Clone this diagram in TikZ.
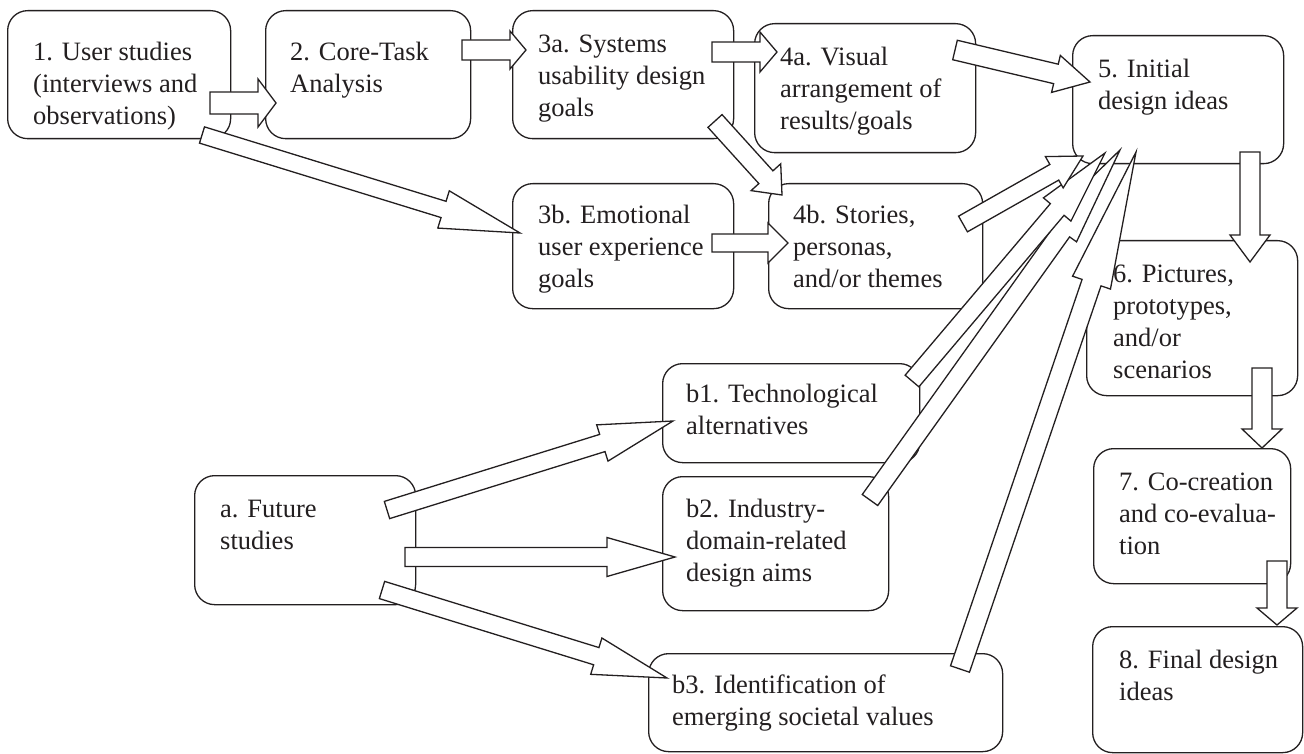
\documentclass[tikz,border=0pt]{standalone}
\usepackage{fontspec}
\setmainfont{Liberation Serif}
\newfontfamily\boxface{Liberation Serif}
\usetikzlibrary{calc}

\definecolor{ink}{HTML}{231F20}

\tikzset{
  box/.style={draw=ink, fill=white, line width=1.3pt, rounded corners=20pt,
    anchor=north west, inner sep=0pt},
  lbl/.style={anchor=north west, inner sep=0pt, align=left, text=ink,
    font=\boxface\fontsize{26.5}{32}\selectfont},
  % outlined block arrow: #1 shaft half-width, #2 head half-width, #3 head length
  barrow/.style n args={3}{draw=ink, fill=white, line width=1.3pt, line join=miter,
    to path={
      let \p1=(\tikztostart), \p2=(\tikztotarget),
          \n1={atan2(\y2-\y1,\x2-\x1)}
      in ($(\p1)+(\n1+90:#1)$)
      -- ($(\p2)+(\n1+180:#3)+(\n1+90:#1)$)
      -- ($(\p2)+(\n1+180:#3)+(\n1+90:#2)$)
      -- (\p2)
      -- ($(\p2)+(\n1+180:#3)+(\n1-90:#2)$)
      -- ($(\p2)+(\n1+180:#3)+(\n1-90:#1)$)
      -- ($(\p1)+(\n1-90:#1)$) -- cycle
    }},
}

\newcommand{\mybox}[5]{% name, x1, y1, x2, y2
  \node[box, minimum width={(#4-#2)*1pt}, minimum height={(#5-#3)*1pt}] (#1) at (#2,#3) {};}

\begin{document}
\begin{tikzpicture}[x=1pt, y=-1pt]
\useasboundingbox (0,0) rectangle (1304,754);

% ---- boxes ----
\mybox{n1}{7}{10}{230}{138}
\mybox{n2}{265}{10}{470}{138}
\mybox{n3a}{512}{10}{733}{138}
\mybox{n4a}{754}{23}{975}{152}
\mybox{n5}{1072}{35}{1283}{163}
\mybox{n6}{1086}{240}{1297}{395}
\mybox{n7}{1093}{448}{1290}{583}
\mybox{n8}{1092}{626}{1302}{752}
\mybox{n3b}{512}{183}{733}{308}
\mybox{n4b}{768}{183}{982}{308}
\mybox{nb1}{662}{363}{919}{462}
\mybox{nb2}{662}{476}{888}{610}
\mybox{nb3}{648}{653}{1002}{751}
\mybox{na}{194}{475}{415}{604}

% ---- labels ----
\node[lbl] (t1) at (33,37.6) {\strut 1. User studies\\(interviews and\\observations)};
\node[lbl] (t2) at (290,37.6) {\strut 2. Core-Task\\Analysis};
\node[lbl] (t3a) at (538,29.6) {\strut 3a. Systems\\usability design\\goals};
\node[lbl] (t4a) at (780,42.6) {\strut 4a. Visual\\arrangement of\\results/goals};
\node[lbl] (t5) at (1098,54.6) {\strut 5. Initial\\design ideas};
\node[lbl] (t6) at (1113,259.6) {\strut 6. Pictures,\\prototypes,\\and/or\\scenarios};
\node[lbl] (t7) at (1119,467.6) {\strut 7. Co-creation\\and co-evalua-\\tion};
\node[lbl] (t8) at (1119,645.6) {\strut 8. Final design\\ideas};
\node[lbl] (t3b) at (538,200.6) {\strut 3b. Emotional\\user experience\\goals};
\node[lbl] (t4b) at (793,200.6) {\strut 4b. Stories,\\personas,\\and/or themes};
\node[lbl] (tb1) at (686,379.6) {\strut b1. Technological\\alternatives};
\node[lbl] (tb2) at (686,494.6) {\strut b2. Industry-\\domain-related\\design aims};
\node[lbl] (tb3) at (672,670.6) {\strut b3. Identification of\\emerging societal values};
\node[lbl] (ta) at (220,494.6) {\strut a. Future\\studies};

% ---- arrow end points ----
\coordinate (s1) at (210,103);  \coordinate (e1) at (276,103);
\coordinate (s2) at (462,50);   \coordinate (e2) at (526,50);
\coordinate (s3) at (712,52);   \coordinate (e3) at (777,52);
\coordinate (s4) at (955,50);   \coordinate (e4) at (1090,82);
\coordinate (s5) at (715,121);  \coordinate (e5) at (782,195);
\coordinate (s6) at (202,135);  \coordinate (e6) at (520,233);
\coordinate (s7) at (712,243);  \coordinate (e7) at (788,243);
\coordinate (s8) at (963,224);  \coordinate (e8) at (1083,156);
\coordinate (s9) at (912,381);  \coordinate (e9) at (1105,153);
\coordinate (s10) at (870,500); \coordinate (e10) at (1120,150);
\coordinate (s11) at (960,669); \coordinate (e11) at (1136,152);
\coordinate (s12) at (1250,152); \coordinate (e12) at (1250,262);
\coordinate (s13) at (1262,368); \coordinate (e13) at (1262,448);
\coordinate (s14) at (1277,561); \coordinate (e14) at (1277,625);
\coordinate (s15) at (387,510); \coordinate (e15) at (673,421);
\coordinate (s16) at (405,557); \coordinate (e16) at (675,557);
\coordinate (s17) at (382,590); \coordinate (e17) at (667,678);

% ---- block arrows ----
\draw[barrow={11pt}{24pt}{18pt}] (s1) to (e1);
\draw[barrow={10pt}{19pt}{16pt}] (s2) to (e2);
\draw[barrow={10pt}{20pt}{17pt}] (s3) to (e3);
\draw[barrow={10pt}{19pt}{35pt}] (s4) to (e4);
\draw[barrow={9.5pt}{20pt}{24pt}] (s5) to (e5);
\draw[barrow={8.5pt}{19.5pt}{80pt}] (s6) to (e6);
\draw[barrow={9pt}{20pt}{20pt}] (s7) to (e7);
\draw[barrow={10pt}{20pt}{138pt}] (s11) to (e11);
\draw[barrow={9.5pt}{18pt}{100pt}] (s10) to (e10);
\draw[barrow={9pt}{18pt}{74pt}] (s9) to (e9);
\draw[barrow={9pt}{18pt}{33pt}] (s8) to (e8);
\draw[barrow={10pt}{20pt}{27pt}] (s12) to (e12);
\draw[barrow={10pt}{20pt}{19pt}] (s13) to (e13);
\draw[barrow={10pt}{20pt}{17pt}] (s14) to (e14);
\draw[barrow={9pt}{19pt}{74pt}] (s15) to (e15);
\draw[barrow={9.5pt}{19.5pt}{68pt}] (s16) to (e16);
\draw[barrow={9pt}{19pt}{74pt}] (s17) to (e17);
\end{tikzpicture}
\end{document}
